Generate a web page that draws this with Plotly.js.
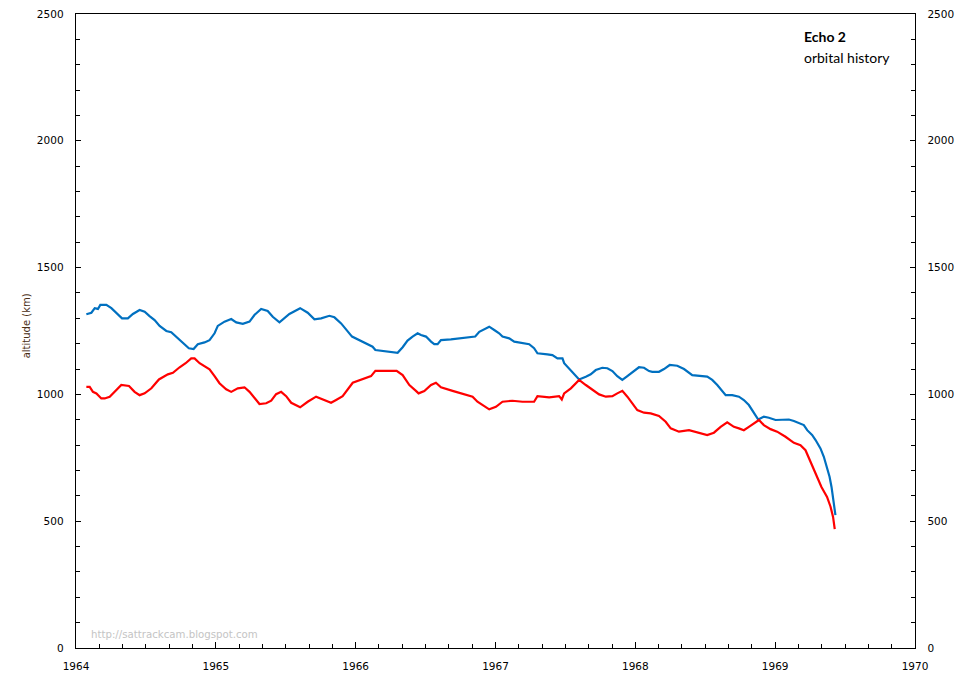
<!DOCTYPE html>
<html>
<head>
<meta charset="utf-8">
<script src="https://cdn.plot.ly/plotly-3.0.1.min.js"></script>
<style>html,body{margin:0;padding:0;background:#fff}#chart{width:963px;height:681px}</style>
</head>
<body>
<div id="chart"></div>
<script>
// Apogee (blue) - decimal year and altitude in km
const apogeeYear = [
  1964.074,1964.110,1964.134,1964.157,1964.174,1964.217,1964.253,1964.289,1964.329,1964.371,
  1964.407,1964.455,1964.491,1964.526,1964.562,1964.598,1964.646,1964.681,1964.717,1964.764,
  1964.807,1964.841,1964.871,1964.919,1964.955,1964.991,1965.014,1965.062,1965.110,1965.146,
  1965.193,1965.241,1965.276,1965.324,1965.371,1965.407,1965.455,1965.526,1965.603,1965.657,
  1965.705,1965.753,1965.812,1965.848,1965.896,1965.974,1966.050,1966.121,1966.141,1966.217,
  1966.300,1966.336,1966.371,1966.407,1966.443,1966.467,1966.503,1966.539,1966.562,1966.586,
  1966.610,1966.681,1966.812,1966.855,1966.884,1966.955,1966.991,1967.026,1967.050,1967.098,
  1967.134,1967.193,1967.241,1967.276,1967.300,1967.371,1967.407,1967.443,1967.479,1967.491,
  1967.526,1967.562,1967.598,1967.646,1967.681,1967.717,1967.764,1967.800,1967.836,1967.871,
  1967.907,1967.943,1967.991,1968.026,1968.062,1968.098,1968.121,1968.169,1968.205,1968.246,
  1968.300,1968.348,1968.407,1968.467,1968.514,1968.550,1968.586,1968.646,1968.693,1968.741,
  1968.776,1968.812,1968.848,1968.879,1968.919,1968.955,1969.003,1969.050,1969.098,1969.134,
  1969.169,1969.205,1969.229,1969.264,1969.289,1969.324,1969.348,1969.371,1969.389,1969.403,
  1969.414,1969.424,1969.431
];
const apogeeKm = [
  1316,1322,1340,1337,1353,1353,1340,1320,1300,1300,
  1317,1333,1326,1309,1293,1270,1250,1245,1228,1205,
  1182,1179,1198,1205,1214,1241,1270,1287,1297,1284,
  1278,1287,1313,1337,1329,1306,1284,1317,1340,1322,
  1296,1300,1310,1304,1280,1228,1208,1188,1175,1170,
  1164,1186,1212,1228,1241,1234,1228,1208,1198,1198,
  1214,1217,1225,1228,1247,1267,1254,1241,1228,1221,
  1208,1201,1198,1182,1162,1158,1155,1142,1142,1123,
  1103,1083,1059,1070,1079,1096,1105,1103,1092,1072,
  1057,1072,1093,1107,1105,1092,1089,1089,1100,1116,
  1113,1100,1076,1072,1070,1057,1037,997,997,991,
  978,958,925,901,912,908,899,901,901,895,
  886,879,859,840,820,787,754,714,675,635,
  596,557,524
];
// Perigee (red)
const perigeeYear = [
  1964.074,1964.098,1964.121,1964.146,1964.181,1964.205,1964.241,1964.289,1964.324,1964.379,
  1964.419,1964.455,1964.491,1964.539,1964.593,1964.657,1964.693,1964.741,1964.784,1964.824,
  1964.848,1964.884,1964.919,1964.955,1964.991,1965.026,1965.074,1965.110,1965.157,1965.205,
  1965.241,1965.276,1965.312,1965.360,1965.396,1965.431,1965.467,1965.503,1965.539,1965.603,
  1965.657,1965.717,1965.764,1965.824,1965.860,1965.907,1965.979,1966.039,1966.110,1966.141,
  1966.217,1966.293,1966.336,1966.384,1966.431,1966.450,1966.491,1966.539,1966.574,1966.610,
  1966.693,1966.812,1966.836,1966.871,1966.907,1966.955,1967.003,1967.050,1967.121,1967.193,
  1967.276,1967.300,1967.384,1967.431,1967.455,1967.474,1967.491,1967.539,1967.598,1967.646,
  1967.693,1967.741,1967.789,1967.836,1967.871,1967.907,1967.943,1967.979,1968.014,1968.062,
  1968.110,1968.169,1968.217,1968.253,1968.312,1968.384,1968.455,1968.514,1968.562,1968.610,
  1968.657,1968.705,1968.741,1968.776,1968.812,1968.848,1968.884,1968.919,1968.967,1969.014,
  1969.074,1969.134,1969.181,1969.217,1969.253,1969.289,1969.331,1969.371,1969.396,1969.414,
  1969.426
];
const perigeeKm = [
  1030,1030,1010,1004,984,984,991,1017,1037,1033,
  1010,997,1004,1024,1059,1079,1085,1107,1123,1142,
  1142,1123,1112,1099,1072,1044,1020,1010,1024,1028,
  1010,984,962,965,975,1001,1010,993,967,949,
  971,991,980,967,978,993,1046,1057,1072,1093,
  1093,1093,1076,1037,1014,1004,1013,1037,1046,1028,
  1014,993,991,971,958,941,951,971,975,971,
  971,993,988,993,993,980,1004,1024,1057,1037,
  1020,1000,991,993,1004,1014,991,965,938,928,
  925,915,892,866,853,859,849,840,849,872,
  890,872,866,859,872,886,899,879,863,853,
  833,809,800,780,734,682,635,596,557,517,
  469
];
const yearTicks = [1964,1965,1966,1967,1968,1969,1970];
const kmTicks = [0,500,1000,1500,2000,2500];
const titleLine1 = 'Echo 2';
const titleLine2 = 'orbital history';
const yTitle = 'altitude (km)';
const watermark = 'http://sattrackcam.blogspot.com';

const tickFont = {family: 'DejaVu Sans, sans-serif', size: 10.5, color: '#000'};

const traces = [
  {x: apogeeYear, y: apogeeKm, type: 'scatter', mode: 'lines',
   line: {color: '#0070C0', width: 2.2}, hoverinfo: 'skip', name: 'apogee'},
  {x: perigeeYear, y: perigeeKm, type: 'scatter', mode: 'lines',
   line: {color: '#FF0000', width: 2.2}, hoverinfo: 'skip', name: 'perigee'},
  {x: apogeeYear, y: apogeeKm, type: 'scatter', mode: 'lines', yaxis: 'y2',
   line: {color: 'rgba(0,0,0,0)', width: 0}, hoverinfo: 'skip', showlegend: false}
];

const yCommon = {
  range: [0, 2500], tickmode: 'array', tickvals: kmTicks, ticktext: kmTicks.map(String),
  ticks: 'inside', ticklen: 5, tickcolor: '#000', tickwidth: 1,
  showline: true, linecolor: '#000', linewidth: 1.3,
  showgrid: false, zeroline: false, tickfont: tickFont, ticklabelstandoff: 9,
  minor: {dtick: 100, tick0: 0, ticks: 'inside', ticklen: 4, tickcolor: '#000', showgrid: false},
  fixedrange: true
};

const layout = {
  width: 963, height: 681,
  margin: {l: 76, r: 48, t: 14, b: 33, pad: 0},
  paper_bgcolor: '#fff', plot_bgcolor: '#fff',
  showlegend: false,
  xaxis: {
    range: [1964, 1970], tickmode: 'array', tickvals: yearTicks, ticktext: yearTicks.map(String),
    ticks: 'inside', ticklen: 6, tickcolor: '#000', tickwidth: 1,
    showline: true, linecolor: '#000', linewidth: 1.3, mirror: true,
    showgrid: false, zeroline: false, tickfont: tickFont, ticklabelstandoff: 8,
    minor: {dtick: 1/6, tick0: 1964, ticks: 'inside', ticklen: 4, tickcolor: '#000', showgrid: false},
    fixedrange: true
  },
  yaxis: Object.assign({}, yCommon, {side: 'left'}),
  yaxis2: Object.assign({}, yCommon, {side: 'right', overlaying: 'y', anchor: 'x'}),
  annotations: [
    {text: '<b>' + titleLine1 + '</b>', xref: 'paper', yref: 'paper', x: 0.865, y: 0.964,
     xanchor: 'left', yanchor: 'middle', showarrow: false,
     font: {family: 'Lato, Open Sans, sans-serif', size: 14, color: '#000'}},
    {text: titleLine2, xref: 'paper', yref: 'paper', x: 0.865, y: 0.932,
     xanchor: 'left', yanchor: 'middle', showarrow: false,
     font: {family: 'Lato, Open Sans, sans-serif', size: 14, color: '#000'}},
    {text: yTitle, xref: 'paper', yref: 'paper', x: -0.0596, y: 0.509,
     xanchor: 'center', yanchor: 'middle', textangle: -90, showarrow: false,
     font: {family: 'DejaVu Sans, sans-serif', size: 10, color: '#4a2e14'}},
    {text: watermark, xref: 'paper', yref: 'paper', x: 0.0155, y: 0.022,
     xanchor: 'left', yanchor: 'middle', showarrow: false,
     font: {family: 'DejaVu Sans, sans-serif', size: 10.2, color: '#c4c4c4'}}
  ]
};

Plotly.newPlot('chart', traces, layout, {staticPlot: true, displayModeBar: false});
</script>
</body>
</html>
